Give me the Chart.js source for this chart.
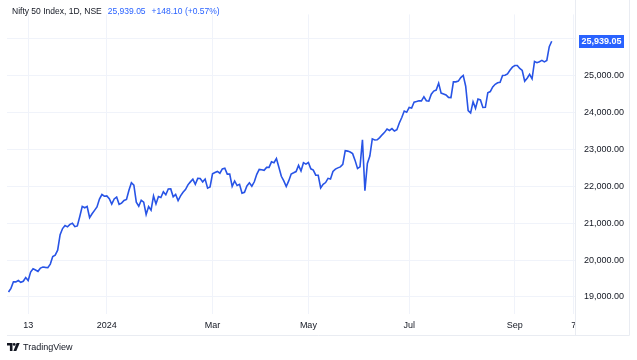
<!DOCTYPE html>
<html>
<head>
<meta charset="utf-8">
<script src="https://cdn.jsdelivr.net/npm/chart.js@4.4.1/dist/chart.umd.min.js"></script>
<style>
    html, body { margin: 0; padding: 0; background: #fff; }
    .wrap { position: relative; width: 637px; height: 360px; font-family: "Liberation Sans", Arial, sans-serif; }
    canvas { position: absolute; left: 0; top: 0; }
    .legend { position: absolute; left: 12px; top: 6px; font-size: 8.5px; line-height: 11px; color: #131722; white-space: nowrap; }
    .legend .val { color: #2962ff; margin-left: 6px; }
    .legend .chg { color: #2962ff; margin-left: 6px; }
    .footer { position: absolute; left: 7px; top: 341px; font-size: 9px; line-height: 12px; color: #131722; white-space: nowrap; display: flex; align-items: center; }
    .footer svg { margin-right: 3px; }
</style>
</head>
<body>
<div class="wrap">
    <canvas id="chart" width="637" height="360"></canvas>
    <div class="legend">Nifty 50 Index, 1D, NSE<span class="val">25,939.05</span><span class="chg">+148.10 (+0.57%)</span></div>
    <div class="footer">
        <svg width="13" height="8" viewBox="0 0 13 8"><path d="M0 0h5.5v8h-2.6v-5.4H0z" fill="#131722"/><circle cx="7.2" cy="1.4" r="1.4" fill="#131722"/><path d="M9.6 0h3.1l-3.4 8H6.4z" fill="#131722"/></svg>
        TradingView
    </div>
</div>
<script>
// trading days (Nifty 50, daily close)
const dates = [
    '2023-11-02','2023-11-03','2023-11-06','2023-11-07','2023-11-08','2023-11-09','2023-11-10','2023-11-12','2023-11-13','2023-11-15',
    '2023-11-16','2023-11-17','2023-11-20','2023-11-21','2023-11-22','2023-11-23','2023-11-24','2023-11-28','2023-11-29','2023-11-30',
    '2023-12-01','2023-12-04','2023-12-05','2023-12-06','2023-12-07','2023-12-08','2023-12-11','2023-12-12','2023-12-13','2023-12-14',
    '2023-12-15','2023-12-18','2023-12-19','2023-12-20','2023-12-21','2023-12-22','2023-12-26','2023-12-27','2023-12-28','2023-12-29',
    '2024-01-01','2024-01-02','2024-01-03','2024-01-04','2024-01-05','2024-01-08','2024-01-09','2024-01-10','2024-01-11','2024-01-12',
    '2024-01-15','2024-01-16','2024-01-17','2024-01-18','2024-01-19','2024-01-20','2024-01-23','2024-01-24','2024-01-25','2024-01-29',
    '2024-01-30','2024-01-31',
    '2024-02-01','2024-02-02','2024-02-05','2024-02-06','2024-02-07','2024-02-08','2024-02-09','2024-02-12','2024-02-13','2024-02-14',
    '2024-02-15','2024-02-16','2024-02-19','2024-02-20','2024-02-21','2024-02-22','2024-02-23','2024-02-26','2024-02-27','2024-02-28',
    '2024-02-29',
    '2024-03-01','2024-03-02','2024-03-04','2024-03-05','2024-03-06','2024-03-07','2024-03-11','2024-03-12','2024-03-13','2024-03-14',
    '2024-03-15','2024-03-18','2024-03-19','2024-03-20','2024-03-21','2024-03-22','2024-03-26','2024-03-27','2024-03-28',
    '2024-04-01','2024-04-02','2024-04-03','2024-04-04','2024-04-05','2024-04-08','2024-04-09','2024-04-10','2024-04-12','2024-04-15',
    '2024-04-16','2024-04-18','2024-04-19','2024-04-22','2024-04-23','2024-04-24','2024-04-25','2024-04-26','2024-04-29','2024-04-30',
    '2024-05-02','2024-05-03','2024-05-06','2024-05-07','2024-05-08','2024-05-09','2024-05-10','2024-05-13','2024-05-14','2024-05-15',
    '2024-05-16','2024-05-17','2024-05-18','2024-05-21','2024-05-22','2024-05-23','2024-05-24','2024-05-27','2024-05-28','2024-05-29',
    '2024-05-30','2024-05-31',
    '2024-06-03','2024-06-04','2024-06-05','2024-06-06','2024-06-07','2024-06-10','2024-06-11','2024-06-12','2024-06-13','2024-06-14',
    '2024-06-18','2024-06-19','2024-06-20','2024-06-21','2024-06-24','2024-06-25','2024-06-26','2024-06-27','2024-06-28',
    '2024-07-01','2024-07-02','2024-07-03','2024-07-04','2024-07-05','2024-07-08','2024-07-09','2024-07-10','2024-07-11','2024-07-12',
    '2024-07-15','2024-07-16','2024-07-18','2024-07-19','2024-07-22','2024-07-23','2024-07-24','2024-07-25','2024-07-26','2024-07-29',
    '2024-07-30','2024-07-31',
    '2024-08-01','2024-08-02','2024-08-05','2024-08-06','2024-08-07','2024-08-08','2024-08-09','2024-08-12','2024-08-13','2024-08-14',
    '2024-08-16','2024-08-19','2024-08-20','2024-08-21','2024-08-22','2024-08-23','2024-08-26','2024-08-27','2024-08-28','2024-08-29',
    '2024-08-30',
    '2024-09-02','2024-09-03','2024-09-04','2024-09-05','2024-09-06','2024-09-09','2024-09-10','2024-09-11','2024-09-12','2024-09-13',
    '2024-09-16','2024-09-17','2024-09-18','2024-09-19','2024-09-20','2024-09-23'
];

const closes = [
    19133, 19231, 19412, 19407, 19444, 19395, 19425, 19526, 19444, 19675,
    19765, 19732, 19694, 19783, 19812, 19802, 19795, 19890, 20097, 20133,
    20268, 20687, 20855, 20938, 20901, 20969, 20997, 20906, 20926, 21183,
    21457, 21419, 21453, 21150, 21255, 21349, 21441, 21655, 21778, 21731,
    21742, 21665, 21518, 21659, 21711, 21513, 21545, 21619, 21647, 21895,
    22097, 22032, 21572, 21462, 21622, 21572, 21239, 21454, 21353, 21738,
    21522, 21726,
    21697, 21854, 21772, 21929, 21931, 21718, 21783, 21616, 21743, 21840,
    21911, 22041, 22122, 22197, 22055, 22217, 22213, 22122, 22198, 21951,
    21983,
    22339, 22378, 22406, 22356, 22474, 22494, 22333, 22336, 21998, 22147,
    22023, 22056, 21817, 21839, 22012, 22097, 22005, 22124, 22327,
    22462, 22453, 22435, 22515, 22514, 22666, 22643, 22754, 22519, 22273,
    22148, 21996, 22147, 22336, 22368, 22402, 22570, 22420, 22643, 22605,
    22648, 22476, 22443, 22303, 22302, 21958, 22055, 22104, 22218, 22201,
    22404, 22467, 22502, 22529, 22598, 22968, 22957, 22932, 22888, 22705,
    22488, 22531,
    23264, 21884, 22620, 22821, 23290, 23259, 23265, 23323, 23399, 23466,
    23558, 23516, 23567, 23501, 23538, 23721, 23869, 24044, 24011,
    24142, 24124, 24286, 24302, 24324, 24321, 24433, 24324, 24316, 24502,
    24587, 24613, 24801, 24531, 24509, 24479, 24414, 24406, 24835, 24837,
    24857, 24951,
    25011, 24718, 24056, 23993, 24297, 24117, 24368, 24347, 24140, 24144,
    24541, 24573, 24699, 24771, 24811, 24823, 25010, 25017, 25052, 25152,
    25236,
    25279, 25280, 25199, 25145, 24852, 24936, 25041, 24918, 25389, 25357,
    25384, 25419, 25378, 25416, 25791, 25939.05
];

// empty future session slots on the time scale
const futureDates = ['2024-09-24','2024-09-25','2024-09-26','2024-09-27','2024-09-30','2024-10-01','2024-10-03','2024-10-04','2024-10-07'];

const tickDates = ['2023-11-13', '2024-01-01', '2024-03-01', '2024-05-02', '2024-07-01', '2024-09-02', '2024-10-07'];
const tickLabels = ['13', '2024', 'Mar', 'May', 'Jul', 'Sep', '7'];
const priceTicks = [19000, 20000, 21000, 22000, 23000, 24000, 25000, 26000];

const allDates = dates.concat(futureDates);
const tickIndex = tickDates.map(d => allDates.indexOf(d));
const lastClose = closes[closes.length - 1];

const fmt = v => v.toLocaleString('en-US', { minimumFractionDigits: 2, maximumFractionDigits: 2 });

const frame = {
    id: 'frame',
    afterDraw(chart) {
        const { ctx, chartArea, scales } = chart;
        const yAxis = scales.y, xAxis = scales.x;
        ctx.save();
        ctx.strokeStyle = '#e9ecf2';
        ctx.lineWidth = 1;
        ctx.beginPath();
        ctx.moveTo(chartArea.left, Math.round(xAxis.bottom) + 0.5);
        ctx.lineTo(Math.round(yAxis.right) + 0.5, Math.round(xAxis.bottom) + 0.5);
        ctx.lineTo(Math.round(yAxis.right) + 0.5, 0);
        ctx.moveTo(Math.round(chartArea.right) + 0.5, 0);
        ctx.lineTo(Math.round(chartArea.right) + 0.5, xAxis.bottom);
        ctx.stroke();

        // last price tag
        const y = yAxis.getPixelForValue(lastClose);
        ctx.fillStyle = '#2962ff';
        ctx.fillRect(chartArea.right + 4, Math.round(y - 6.5), 45, 13);
        ctx.fillStyle = '#ffffff';
        ctx.font = 'bold 9px "Liberation Sans", Arial, sans-serif';
        ctx.textAlign = 'center';
        ctx.textBaseline = 'middle';
        ctx.fillText(fmt(lastClose), chartArea.right + 26.5, Math.round(y) + 0.5);
        ctx.restore();
    }
};

new Chart(document.getElementById('chart'), {
    type: 'line',
    data: {
        datasets: [{
            data: closes.map((v, i) => ({ x: i, y: v })),
            borderColor: '#2854e6',
            borderWidth: 1.6,
            pointRadius: 0,
            tension: 0,
            fill: false
        }]
    },
    options: {
        responsive: false,
        animation: false,
        layout: { padding: { left: 7, top: 3, right: 8, bottom: 25 } },
        plugins: { legend: { display: false }, tooltip: { enabled: false } },
        scales: {
            x: {
                type: 'linear',
                position: 'bottom',
                min: -0.61,
                max: 230.47,
                grid: { color: '#f0f3fa', drawTicks: false },
                border: { display: false },
                afterBuildTicks: axis => { axis.ticks = tickIndex.map(v => ({ value: v })); },
                afterFit: axis => { axis.height = 21; },
                ticks: {
                    autoSkip: false,
                    maxRotation: 0,
                    padding: 6,
                    color: '#131722',
                    font: { family: '"Liberation Sans", Arial, sans-serif', size: 9 },
                    callback: v => tickLabels[tickIndex.indexOf(v)]
                }
            },
            y: {
                position: 'right',
                min: 18536,
                max: 26667,
                grid: { color: '#f0f3fa', drawTicks: false },
                border: { display: false },
                afterBuildTicks: axis => { axis.ticks = priceTicks.map(v => ({ value: v })); },
                afterFit: axis => { axis.width = 54; },
                ticks: {
                    padding: 9,
                    color: '#131722',
                    font: { family: '"Liberation Sans", Arial, sans-serif', size: 9 },
                    callback: v => Math.abs(v - lastClose) < 300 ? '' : fmt(v)
                }
            }
        }
    },
    plugins: [frame]
});
</script>
</body>
</html>
